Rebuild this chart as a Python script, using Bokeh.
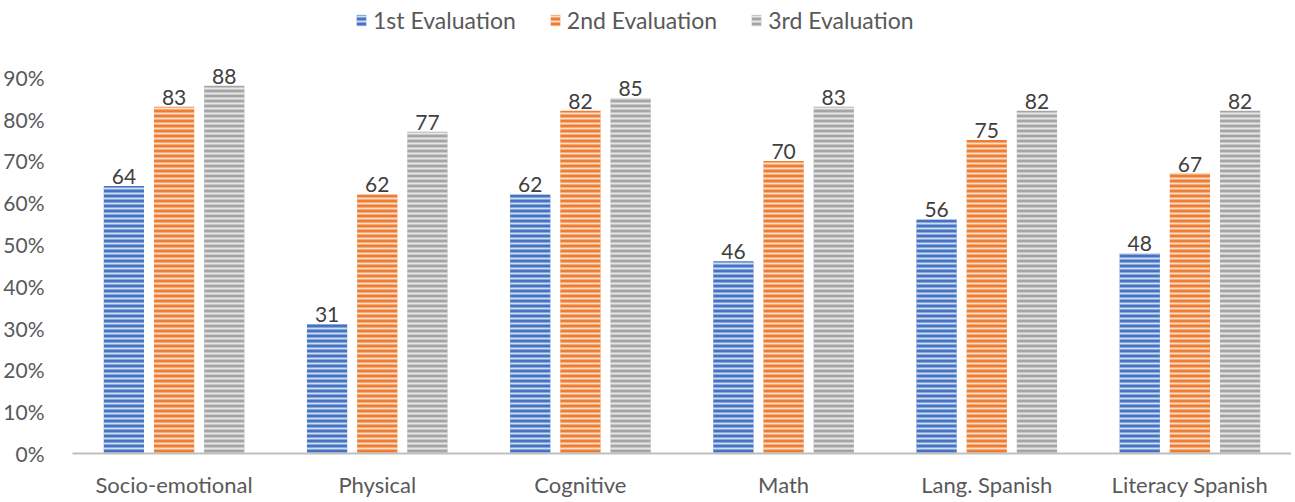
from bokeh.plotting import figure
from bokeh.models import ColumnDataSource, Range1d, FixedTicker, LabelSet, Legend, LegendItem, NumeralTickFormatter
from bokeh.core.properties import value
from bokeh.transform import dodge
from bokeh.embed import file_html
from bokeh.resources import INLINE

categories = ["Socio-emotional", "Physical", "Cognitive", "Math", "Lang. Spanish", "Literacy Spanish"]
series_names = ["1st Evaluation", "2nd Evaluation", "3rd Evaluation"]
eval1 = [64, 31, 62, 46, 56, 48]
eval2 = [83, 62, 82, 70, 75, 67]
eval3 = [88, 77, 85, 83, 82, 82]
y_ticks = [0, 10, 20, 30, 40, 50, 60, 70, 80, 90]

colors = ["#4472C4", "#ED7D31", "#A5A5A5"]
FONT = "Lato"

src = ColumnDataSource(dict(
    cat=categories,
    e1=[v / 100 for v in eval1],
    e2=[v / 100 for v in eval2],
    e3=[v / 100 for v in eval3],
    l1=[str(v) for v in eval1],
    l2=[str(v) for v in eval2],
    l3=[str(v) for v in eval3],
))

p = figure(x_range=categories, y_range=Range1d(0, 1.084), width=1291, height=500,
           output_backend="svg", toolbar_location=None,
           min_border_left=72, min_border_right=0, min_border_top=0, min_border_bottom=0)
p.outline_line_color = None
p.xgrid.grid_line_color = None
p.ygrid.grid_line_color = None
p.x_range.range_padding = 0.0

offsets = [-0.247, 0.0, 0.247]
keys = ["e1", "e2", "e3"]
lkeys = ["l1", "l2", "l3"]
renderers = []
for k, lk, off, c in zip(keys, lkeys, offsets, colors):
    r = p.vbar(x=dodge("cat", off, range=p.x_range), top=k, width=0.198, source=src,
               fill_color=c, line_color=None,
               hatch_pattern="horizontal_line", hatch_color="white", hatch_alpha=0.75,
               hatch_scale=5, hatch_weight=2)
    renderers.append(r)
    labels = LabelSet(x=dodge("cat", off, range=p.x_range), y=k, text=lk, source=src,
                      text_align="center", text_baseline="alphabetic", y_offset=2,
                      text_font=value(FONT), text_font_size="21px", text_color="#404040")
    p.add_layout(labels)

legend = Legend(items=[LegendItem(label=n, renderers=[r]) for n, r in zip(series_names, renderers)],
                orientation="horizontal", location=(283, 419),
                glyph_width=12, glyph_height=14, label_standoff=6, spacing=33,
                label_text_font=FONT, label_text_font_size="23px", label_text_color="#595959",
                background_fill_alpha=0, border_line_color=None, margin=0, padding=4)
p.add_layout(legend)

p.yaxis.ticker = FixedTicker(ticks=[t / 100 for t in y_ticks])
p.yaxis.formatter = NumeralTickFormatter(format="0%")
p.yaxis.axis_line_color = None
p.yaxis.major_tick_line_color = None
p.yaxis.minor_tick_line_color = None
p.yaxis.major_label_standoff = 22
p.yaxis.major_label_text_font = FONT
p.yaxis.major_label_text_font_size = "21px"
p.yaxis.major_label_text_color = "#595959"

p.xaxis.axis_line_color = "#BFBFBF"
p.xaxis.axis_line_width = 2
p.xaxis.major_tick_line_color = None
p.xaxis.minor_tick_line_color = None
p.xaxis.major_label_standoff = 11
p.xaxis.major_label_text_font = FONT
p.xaxis.major_label_text_font_size = "22px"
p.xaxis.major_label_text_color = "#595959"

open("out.html", "w").write(file_html(p, INLINE))
